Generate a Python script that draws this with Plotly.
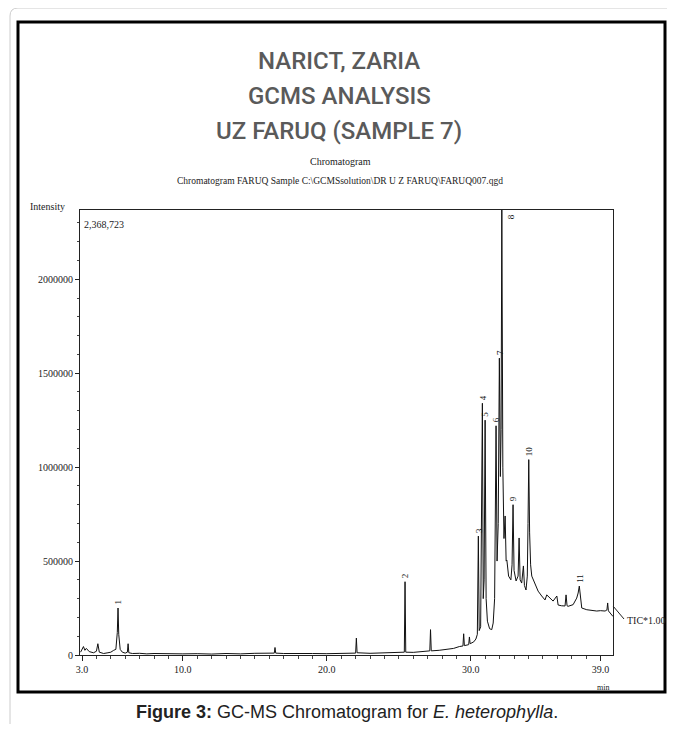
import plotly.graph_objects as go

# ---- data ----
retention_time = [
    2.9, 3.0, 3.1, 3.2, 3.3, 3.5, 3.8, 4.0, 4.1, 4.2, 4.5, 4.8, 5.0, 5.2, 5.35, 5.45, 5.5, 5.55,
    5.65, 5.8, 6.0, 6.15, 6.2, 6.25, 6.5, 7.0, 7.5, 8.0, 8.5, 9.0, 9.5, 10.0, 11.0, 12.0, 13.0,
    14.0, 15.0, 16.0, 16.35, 16.4, 16.45, 17.0, 18.0, 19.0, 20.0, 21.0, 22.0, 22.05, 22.1, 23.0,
    24.0, 25.0, 25.38, 25.43, 25.48, 26.0, 26.5, 27.0, 27.15, 27.2, 27.25, 27.8, 28.3, 28.8, 29.2,
    29.45, 29.5, 29.55, 29.85, 29.9, 29.95, 30.2, 30.35, 30.45, 30.52, 30.58, 30.68, 30.8, 30.86,
    30.92, 30.99, 31.06, 31.15, 31.3, 31.45, 31.55, 31.65, 31.75, 31.82, 31.9, 31.98, 32.05, 32.1,
    32.15, 32.22, 32.3, 32.38, 32.45, 32.5, 32.62, 32.78, 32.86, 32.93, 33.0, 33.14, 33.28, 33.35,
    33.42, 33.53, 33.65, 33.72, 33.83, 33.92, 33.97, 34.02, 34.08, 34.15, 34.23, 34.46, 34.67,
    34.92, 35.15, 35.27, 35.5, 35.71, 35.97, 36.06, 36.3, 36.54, 36.61, 36.68, 36.75, 37.1, 37.35,
    37.45, 37.53, 37.6, 37.7, 38.05, 38.4, 38.74, 39.0, 39.32, 39.45, 39.5, 39.55, 39.78, 39.87,
]
intensity = [
    15000, 30000, 45000, 25000, 35000, 18000, 12000, 20000, 60000, 15000, 8000, 12000, 15000,
    25000, 30000, 120000, 250000, 110000, 30000, 15000, 10000, 15000, 60000, 12000, 8000, 9000,
    6000, 8000, 7000, 5000, 8000, 6000, 7000, 5000, 8000, 6000, 9000, 7000, 10000, 40000, 10000,
    8000, 6000, 8000, 7000, 9000, 10000, 90000, 12000, 9000, 11000, 12000, 15000, 390000, 15000,
    14000, 18000, 20000, 22000, 135000, 22000, 25000, 30000, 35000, 45000, 48000, 113000, 50000,
    55000, 96000, 60000, 70000, 85000, 110000, 633000, 130000, 150000, 1340000, 300000, 400000,
    1250000, 300000, 180000, 140000, 135000, 170000, 300000, 1220000, 500000, 700000, 1580000,
    950000, 1200000, 2368723, 1000000, 620000, 740000, 500000, 505000, 420000, 400000, 480000,
    800000, 450000, 394000, 420000, 623000, 400000, 383000, 474000, 370000, 346000, 420000,
    700000, 1040000, 650000, 480000, 420000, 383000, 340000, 314000, 293000, 320000, 303000,
    287000, 314000, 266000, 262000, 261000, 320000, 262000, 259000, 268000, 303000, 330000,
    367000, 300000, 250000, 241000, 238000, 234000, 236000, 234000, 240000, 277000, 235000,
    215000, 205000,
]
peak_numbers = ["1", "2", "3", "4", "5", "6", "7", "8", "9", "10", "11"]
peak_times = [5.5, 25.43, 30.52, 30.8, 30.99, 31.75, 31.98, 32.15, 32.93, 34.02, 37.53]
peak_heights = [250000, 390000, 633000, 1340000, 1250000, 1220000, 1580000, 2368723, 800000, 1040000, 367000]

x_tick_values = [3.0, 10.0, 20.0, 30.0, 39.0]
x_tick_labels = ["3.0", "10.0", "20.0", "30.0", "39.0"]
y_tick_values = [0, 500000, 1000000, 1500000, 2000000]
y_tick_labels = ["0", "500000", "1000000", "1500000", "2000000"]
y_max = 2368723
x_range = [2.86, 39.87]

# ---- layout geometry (screen pixels; the page body adds an 8px margin) ----
SCREEN_W, SCREEN_H, OFF = 675, 742, 8
FIG_W, FIG_H = SCREEN_W - 2 * OFF, SCREEN_H - 2 * OFF - 10
L, R, T, B = 80, 613, 210, 655

def px(xp):
    return (xp - L) / (R - L)

def py(yp):
    return (B - yp) / (B - T)

SERIF = "Liberation Serif"

fig = go.Figure()
fig.add_trace(go.Scatter(
    x=retention_time, y=intensity, mode="lines",
    line=dict(color="#111111", width=1), hoverinfo="skip", showlegend=False,
))

annotations = []
for num, t, h in zip(peak_numbers, peak_times, peak_heights):
    if num == "8":
        annotations.append(dict(x=t, y=h, xref="x", yref="y", text=num, showarrow=False,
                                textangle=-90, font=dict(family=SERIF, size=9, color="#111"),
                                xanchor="left", yanchor="top", xshift=2, yshift=-2))
    else:
        annotations.append(dict(x=t, y=h, xref="x", yref="y", text=num, showarrow=False,
                                textangle=-90, font=dict(family=SERIF, size=9, color="#111"),
                                xanchor="center", yanchor="bottom", yshift=1))

title_font = dict(family="Roboto", size=24, color="#5a5a5a", weight=500)
for txt, yp in [("NARICT, ZARIA", 61), ("GCMS ANALYSIS", 96), ("UZ FARUQ (SAMPLE 7)", 131)]:
    annotations.append(dict(x=px(339), y=py(yp), xref="paper", yref="paper", text=txt,
                            showarrow=False, font=title_font, xanchor="center", yanchor="middle"))

small = dict(family=SERIF, size=10, color="#222")
annotations += [
    dict(x=px(340), y=py(161), xref="paper", yref="paper", text="Chromatogram", showarrow=False,
         font=small, xanchor="center", yanchor="middle"),
    dict(x=px(340), y=py(181), xref="paper", yref="paper",
         text="Chromatogram FARUQ Sample C:\\GCMSsolution\\DR U Z FARUQ\\FARUQ007.qgd",
         showarrow=False, font=dict(family=SERIF, size=9.5, color="#222"),
         xanchor="center", yanchor="middle"),
    dict(x=px(28), y=py(207), xref="paper", yref="paper", text="Intensity", showarrow=False,
         font=small, xanchor="left", yanchor="middle"),
    dict(x=px(82), y=py(224), xref="paper", yref="paper", text="2,368,723", showarrow=False,
         font=small, xanchor="left", yanchor="middle"),
    dict(x=px(625), y=py(620), xref="paper", yref="paper", text="TIC*1.00", showarrow=False,
         font=small, xanchor="left", yanchor="middle"),
    dict(x=px(603), y=py(687), xref="paper", yref="paper", text="min", showarrow=False,
         font=dict(family=SERIF, size=8, color="#222"), xanchor="center", yanchor="middle"),
    dict(x=px(347), y=py(712), xref="paper", yref="paper",
         text="<b>Figure 3:</b> GC-MS Chromatogram for <i>E. heterophylla</i>.", showarrow=False,
         font=dict(family="Liberation Sans", size=18, color="#222"), xanchor="center", yanchor="middle"),
]

shapes = [
    # outer light card border with rounded corner
    dict(type="path", xref="paper", yref="paper",
         path=f"M {px(10)},{py(760)} L {px(10)},{py(16)} Q {px(10)},{py(8)} {px(18)},{py(8)} L {px(690)},{py(8)}",
         line=dict(color="#cccccc", width=1)),
    # thick black frame
    dict(type="rect", xref="paper", yref="paper", x0=px(18), y0=py(692), x1=px(665), y1=py(22),
         line=dict(color="#000000", width=3)),
    # TIC leader line
    dict(type="line", xref="paper", yref="paper", x0=px(613), y0=py(606), x1=px(624), y1=py(619),
         line=dict(color="#222", width=1)),
]

fig.update_layout(
    width=FIG_W, height=FIG_H,
    margin=dict(l=L - OFF, r=(OFF + FIG_W) - R, t=T - OFF, b=(OFF + FIG_H) - B, pad=0),
    paper_bgcolor="white", plot_bgcolor="white",
    annotations=annotations, shapes=shapes,
    xaxis=dict(range=x_range, tickvals=x_tick_values, ticktext=x_tick_labels,
               showgrid=False, zeroline=False, showline=True, linecolor="#222", linewidth=1,
               mirror=True, ticks="outside", ticklen=5, tickcolor="#222",
               minor=dict(dtick=1, ticks="outside", ticklen=3, tickcolor="#444"),
               tickfont=dict(family=SERIF, size=10, color="#222")),
    yaxis=dict(range=[0, y_max], tickvals=y_tick_values, ticktext=y_tick_labels,
               showgrid=False, zeroline=False, showline=True, linecolor="#222", linewidth=1,
               mirror=True, ticks="outside", ticklen=4, tickcolor="#222",
               minor=dict(dtick=100000, ticks="outside", ticklen=2, tickcolor="#444"),
               tickfont=dict(family=SERIF, size=10, color="#222")),
)

fig.write_html("out.html")
